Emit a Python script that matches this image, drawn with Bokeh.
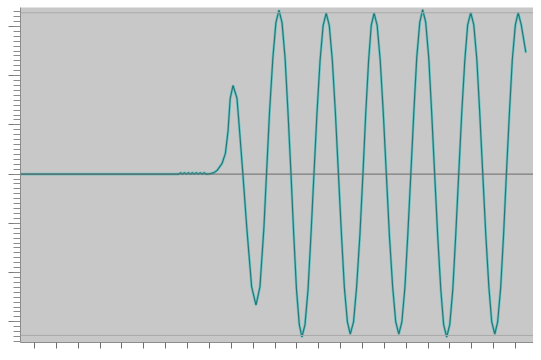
from bokeh.plotting import figure
from bokeh.models import Range1d, Span, SingleIntervalTicker, CustomJSTickFormatter
from bokeh.embed import file_html
from bokeh.resources import INLINE

# Sample positions (sample index) and amplitude values (16-bit scale)
samples = [-7, 66.0, 66.8, 67.7, 68.6, 69.5, 70.4, 71.3, 72.2, 73.1, 74.0, 74.9, 75.8, 76.7, 77.6, 78.5, 80.5,
           82.1, 83.6, 85.8, 87.3, 88.5, 89.5, 90.8, 92.6, 93.8, 95.3, 97.1, 99.3, 101.3, 103.1, 104.9, 106.1,
           107.5, 109.0, 110.4, 111.8, 113.2, 114.6, 115.9, 117.3,
           118.6, 119.8, 121.1, 122.3, 123.7, 125.1, 126.4, 127.8,
           129.2, 130.6, 132.0, 133.4, 134.8, 136.2, 137.6, 139.0,
           140.4, 141.7, 143.1, 144.4, 145.9, 147.3, 148.8, 150.2,
           151.5, 152.8, 154.0, 155.3, 156.7, 158.1, 159.5, 160.9,
           162.3, 163.8, 165.2, 166.6, 168.0, 169.4, 170.7, 172.1,
           173.5, 174.8, 176.2, 177.5, 178.9, 180.3, 181.6, 183.0,
           184.4, 185.8, 187.1, 188.5, 189.9, 191.3, 192.6, 194.0,
           195.4, 196.8, 198.1, 199.5, 200.9, 202.3, 203.6, 205.0,
           206.4, 207.8, 209.1, 210.5, 211.8, 213.2, 214.5, 215.8,
           217.2, 218.5, 219.9, 221.2, 222.6, 224.7]
amplitude = [0, 0, 300, 0, 300, 0, 300, 0, 300, 0, 300, 0, 300, 0, 300, 0, 100,
             300, 800, 2200, 4200, 8700, 15400, 18000, 15400, 8700, 0, -11000, -22900, -26600, -22900, -11000, 0,
             12750, 23540, 30770, 33300, 30770, 23540, 12750, 0,
             -12680, -23400, -30580, -33100, -30580, -23400, -12680, 0,
             12520, 23120, 30210, 32700, 30210, 23120, 12520, 0,
             -12450, -22980, -30030, -32500, -30030, -22980, -12450, 0,
             12520, 23120, 30210, 32700, 30210, 23120, 12520, 0,
             -12450, -22980, -30030, -32500, -30030, -22980, -12450, 0,
             12790, 23610, 30860, 33400, 30860, 23610, 12790, 0,
             -12680, -23400, -30580, -33100, -30580, -23400, -12680, 0,
             12560, 23190, 30310, 32800, 30310, 23190, 12560, 0,
             -12450, -22980, -30030, -32500, -30030, -22980, -12450, 0,
             12560, 23190, 30310, 32800, 30300, 24700]

full_scale = [32767, -32767]

p = figure(width=533, height=352, output_backend="svg", toolbar_location=None,
           x_range=Range1d(-6.4, 228.2), y_range=Range1d(-34200, 33840),
           min_border_left=20, min_border_right=0, min_border_top=7, min_border_bottom=10)
p.background_fill_color = "#c8c8c8"
p.border_fill_color = "white"
p.outline_line_color = None
p.grid.visible = False

# Axes
xax = p.xaxis[0]
xax.ticker = SingleIntervalTicker(interval=10, num_minor_ticks=0)
xax.formatter = CustomJSTickFormatter(code="return ''")
xax.major_label_text_font_size = "0px"
xax.major_label_standoff = 0
xax.major_tick_in = 0
xax.major_tick_out = 6
xax.minor_tick_out = 0
xax.axis_line_color = "#8c8c8c"
xax.major_tick_line_color = "#6e6e6e"

yax = p.yaxis[0]
yax.ticker = SingleIntervalTicker(interval=10000, num_minor_ticks=10)
yax.formatter = CustomJSTickFormatter(code="return ''")
yax.major_label_text_font_size = "0px"
yax.major_label_standoff = 0
yax.major_tick_in = 0
yax.major_tick_out = 12
yax.minor_tick_in = 0
yax.minor_tick_out = 7
yax.axis_line_color = "#8c8c8c"
yax.major_tick_line_color = "#7a7a7a"
yax.minor_tick_line_color = "#8a8a8a"

# Reference lines
for lvl in full_scale:
    p.add_layout(Span(location=lvl, dimension="width", line_color="#a9a9a9", line_width=1))
p.add_layout(Span(location=0, dimension="width", line_color="#6a6a6a", line_width=1))

p.line(samples, amplitude, line_color="#6fc4c4", line_width=2.6)
p.line(samples, amplitude, line_color="#267878", line_width=1.2)

open("out.html", "w").write(file_html(p, INLINE))
